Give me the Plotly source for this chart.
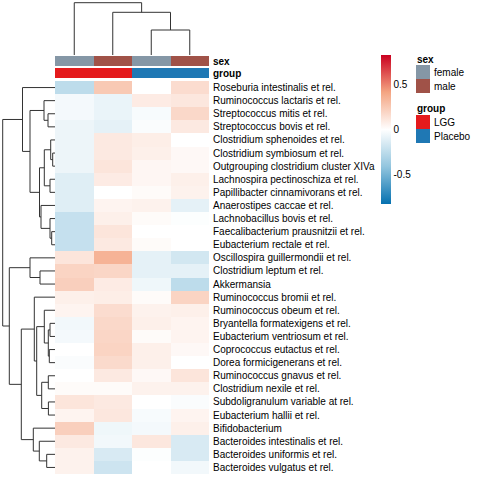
import plotly.graph_objects as go

# ---------------- data ----------------
taxa = [
    "Roseburia intestinalis et rel.", "Ruminococcus lactaris et rel.", "Streptococcus mitis et rel.",
    "Streptococcus bovis et rel.", "Clostridium sphenoides et rel.", "Clostridium symbiosum et rel.",
    "Outgrouping clostridium cluster XIVa", "Lachnospira pectinoschiza et rel.",
    "Papillibacter cinnamivorans et rel.", "Anaerostipes caccae et rel.", "Lachnobacillus bovis et rel.",
    "Faecalibacterium prausnitzii et rel.", "Eubacterium rectale et rel.", "Oscillospira guillermondii et rel.",
    "Clostridium leptum et rel.", "Akkermansia", "Ruminococcus bromii et rel.", "Ruminococcus obeum et rel.",
    "Bryantella formatexigens et rel.", "Eubacterium ventriosum et rel.", "Coprococcus eutactus et rel.",
    "Dorea formicigenerans et rel.", "Ruminococcus gnavus et rel.", "Clostridium nexile et rel.",
    "Subdoligranulum variable at rel.", "Eubacterium hallii et rel.", "Bifidobacterium",
    "Bacteroides intestinalis et rel.", "Bacteroides uniformis et rel.", "Bacteroides vulgatus et rel.",
]
samples = ["S1", "S2", "S3", "S4"]
sex = ["female", "male", "female", "male"]
group = ["LGG", "LGG", "Placebo", "Placebo"]

# values per sample column (rows in taxa order)
col1 = [-0.25, -0.04, -0.04, -0.07, -0.07, -0.07, -0.07, -0.12, -0.12, -0.12, -0.22, -0.22, -0.22, 0.12, 0.20,
        0.22, 0.07, 0.05, -0.05, -0.04, 0.0, -0.02, 0.0, 0.02, 0.12, 0.05, 0.22, 0.10, 0.06, 0.06]
col2 = [0.25, -0.08, -0.08, -0.10, 0.10, 0.10, 0.12, 0.09, 0.0, 0.05, 0.07, 0.12, 0.10, 0.35, 0.19,
        0.09, 0.08, 0.16, 0.18, 0.19, 0.20, 0.17, 0.10, 0.02, 0.10, 0.11, -0.06, -0.05, -0.15, -0.19]
col3 = [0.0, 0.09, -0.03, -0.02, 0.08, 0.07, 0.04, 0.04, 0.02, 0.06, 0.02, 0.0, 0.02, -0.10, -0.10,
        -0.06, 0.02, 0.06, 0.07, 0.02, 0.07, 0.07, 0.03, 0.06, 0.0, -0.03, -0.04, 0.11, -0.01, 0.0]
col4 = [0.16, 0.11, 0.18, 0.10, 0.0, 0.03, 0.03, 0.07, 0.06, -0.10, -0.01, 0.0, 0.0, -0.17, -0.10,
        -0.25, 0.20, 0.07, 0.05, 0.05, 0.03, 0.0, 0.12, 0.06, -0.02, 0.05, 0.07, -0.15, -0.15, -0.05]

# linkage (child a, child b, height); ids >= n refer to earlier merges
row_merges = [
    (2, 3, 7.0), (1, 30, 11.0), (5, 6, 2.3), (4, 32, 4.3), (7, 8, 5.0), (33, 34, 10.7),
    (11, 12, 3.3), (10, 36, 5.0), (9, 37, 14.0), (35, 38, 15.5), (31, 39, 25.0), (0, 40, 32.5),
    (14, 15, 15.0), (13, 42, 25.0), (18, 19, 5.0), (20, 21, 5.7), (44, 45, 6.7), (17, 46, 10.7),
    (22, 23, 6.7), (24, 25, 6.6), (48, 49, 13.3), (47, 50, 18.3), (16, 51, 20.7), (28, 29, 8.3),
    (27, 53, 15.7), (26, 54, 21.7), (52, 55, 33.7), (43, 56, 45.7), (41, 57, 52.3),
]
col_merges = [(2, 3, 25.0), (1, 4, 42.7), (0, 5, 52.3)]

sex_colors = {"female": "#8597A6", "male": "#A05248"}
group_colors = {"LGG": "#E41A1C", "Placebo": "#1F78B4"}

# ---------------- helpers ----------------
W = H = 480
FONT = "Liberation Sans, Arial, sans-serif"


def dendro(merges, n):
    pos = {i: float(i) for i in range(n)}
    hgt = {i: 0.0 for i in range(n)}
    p, h = [], []
    for k, (a, b, ht) in enumerate(merges):
        p += [pos[a], pos[a], pos[b], pos[b], None]
        h += [hgt[a], ht, ht, hgt[b], None]
        pos[n + k] = (pos[a] + pos[b]) / 2
        hgt[n + k] = ht
    return p, h


def px_x(v):
    return v / W


def px_y(v):
    return 1 - v / H


z = [[col1[i], col2[i], col3[i], col4[i]] for i in range(len(taxa))]
nrow = len(taxa)

fig = go.Figure()

rdbu = [[0.0, "#0571B0"], [0.25, "#92C5DE"], [0.5, "#FFFFFF"], [0.75, "#F4A582"], [1.0, "#CA0020"]]

fig.add_trace(go.Heatmap(
    z=z, x=list(range(4)), y=list(range(nrow)), colorscale=rdbu, zmin=-0.83, zmax=0.83,
    xaxis="x", yaxis="y",
    colorbar=dict(
        thickness=10, lenmode="pixels", len=149, x=px_x(381), xanchor="left",
        y=px_y(55), yanchor="top", xpad=0, ypad=0, outlinewidth=0,
        tickvals=[-0.5, 0, 0.5], ticktext=["-0.5", "0", "0.5"], ticks="",
        tickfont=dict(size=10, color="black", family=FONT),
    ),
    hoverinfo="skip",
))

# annotation bars
sex_levels = list(sex_colors)
grp_levels = list(group_colors)
fig.add_trace(go.Heatmap(
    z=[[sex_levels.index(s) for s in sex]], x=list(range(4)), y=[0],
    colorscale=[[0, sex_colors["female"]], [0.5, sex_colors["female"]], [0.5, sex_colors["male"]], [1, sex_colors["male"]]],
    zmin=0, zmax=1, showscale=False, xaxis="x", yaxis="y4", hoverinfo="skip"))
fig.add_trace(go.Heatmap(
    z=[[grp_levels.index(g) for g in group]], x=list(range(4)), y=[0],
    colorscale=[[0, group_colors["LGG"]], [0.5, group_colors["LGG"]], [0.5, group_colors["Placebo"]], [1, group_colors["Placebo"]]],
    zmin=0, zmax=1, showscale=False, xaxis="x", yaxis="y5", hoverinfo="skip"))

# dendrograms
rp, rh = dendro(row_merges, nrow)
fig.add_trace(go.Scatter(x=rh, y=rp, mode="lines", line=dict(color="#333333", width=1),
                         xaxis="x2", yaxis="y", hoverinfo="skip", showlegend=False))
cp, ch = dendro(col_merges, 4)
fig.add_trace(go.Scatter(x=cp, y=ch, mode="lines", line=dict(color="#333333", width=1),
                         xaxis="x", yaxis="y3", hoverinfo="skip", showlegend=False))

noax = dict(showgrid=False, zeroline=False, showticklabels=False, ticks="", showline=False, automargin=False)
lab = dict(showgrid=False, zeroline=False, ticks="", showline=False, automargin=False, side="right",
           ticklabelstandoff=3)

fig.update_layout(
    template="none",
    width=W, height=H, margin=dict(l=0, r=0, t=0, b=0, autoexpand=False),
    paper_bgcolor="white", plot_bgcolor="white", showlegend=False,
    font=dict(family=FONT, size=10, color="black"),
    xaxis=dict(domain=[px_x(55), px_x(209)], range=[-0.5, 3.5], anchor="y", **noax),
    yaxis=dict(domain=[px_y(474), px_y(81)], range=[nrow - 0.5, -0.5], anchor="x",
               tickvals=list(range(nrow)), ticktext=taxa, tickfont=dict(size=10, color="black"), **lab),
    xaxis2=dict(domain=[0, px_x(55)], range=[55, 0], anchor="y", **noax),
    yaxis3=dict(domain=[px_y(55), 1], range=[0, 55], anchor="x", **noax),
    yaxis4=dict(domain=[px_y(66), px_y(56)], range=[-0.5, 0.5], anchor="x",
                tickvals=[0], ticktext=["sex"], tickfont=dict(size=10, color="black", weight="bold"), **lab),
    yaxis5=dict(domain=[px_y(78), px_y(68)], range=[-0.5, 0.5], anchor="x",
                tickvals=[0], ticktext=["group"], tickfont=dict(size=10, color="black", weight="bold"), **lab),
)

# categorical legends
shapes, annos = [], []


def legend_block(title, colors, top):
    annos.append(dict(x=px_x(416), y=px_y(top), xref="paper", yref="paper", text=title, showarrow=False,
                      xanchor="left", yanchor="middle", xshift=-1,
                      font=dict(size=10, color="black", weight="bold")))
    y0 = top + 6
    for lab_, col in colors.items():
        shapes.append(dict(type="rect", xref="paper", yref="paper", x0=px_x(416), x1=px_x(430),
                           y0=px_y(y0), y1=px_y(y0 + 14), fillcolor=col, line=dict(width=0)))
        annos.append(dict(x=px_x(432), y=px_y(y0 + 7.5), xref="paper", yref="paper", text=lab_, showarrow=False,
                          xanchor="left", yanchor="middle", font=dict(size=10, color="black")))
        y0 += 14


legend_block("sex", sex_colors, 59)
legend_block("group", group_colors, 109)
fig.update_layout(shapes=shapes, annotations=annos)

fig.write_html("out.html", config={"displayModeBar": False, "staticPlot": True},
               post_script="document.body.style.margin='0';")
